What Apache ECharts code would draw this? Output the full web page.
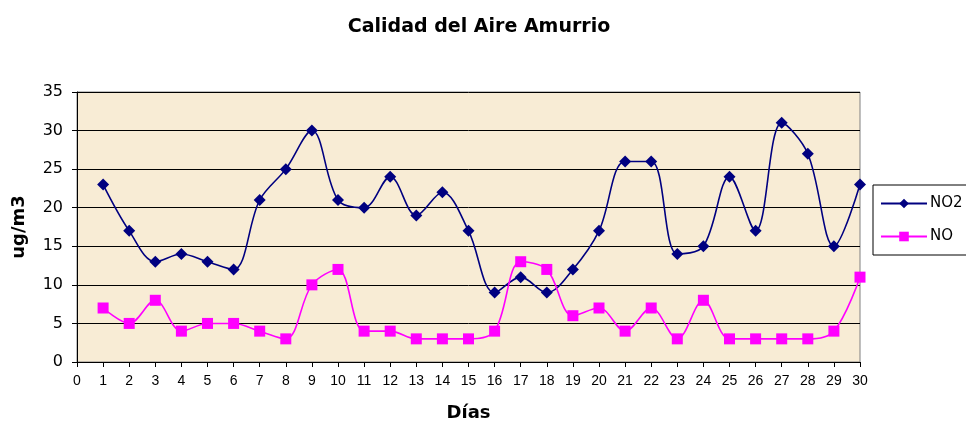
<!DOCTYPE html>
<html>
<head>
<meta charset="utf-8">
<script src="https://cdn.jsdelivr.net/npm/echarts@6/dist/echarts.min.js"></script>
<style>html,body{margin:0;padding:0;background:#fff}#c{width:966px;height:421px}</style>
</head>
<body>
<div id="c"></div>
<script>
const days = [1,2,3,4,5,6,7,8,9,10,11,12,13,14,15,16,17,18,19,20,21,22,23,24,25,26,27,28,29,30];
const no2 = [23,17,13,14,13,12,21,25,30,21,20,24,19,22,17,9,11,9,12,17,26,26,14,15,24,17,31,27,15,23];
const no = [7,5,8,4,5,5,4,3,10,12,4,4,3,3,3,4,13,12,6,7,4,7,3,8,3,3,3,3,4,11];
const titleText = 'Calidad del Aire Amurrio';
const xName = 'Días';
const yName = 'ug/m3';
const seriesNames = ['NO2', 'NO'];

const chart = echarts.init(document.getElementById('c'), null, {renderer: 'canvas'});
const pair = (arr) => days.map((d, i) => [d, arr[i]]);
chart.setOption({
  animation: false,
  backgroundColor: '#ffffff',
  title: {
    text: titleText, left: 474, top: 13, textAlign: 'center',
    textStyle: {fontFamily: 'DejaVu Sans', fontWeight: 'bold', fontSize: 19, color: '#000'}
  },
  grid: {left: 77, right: 106, top: 92, bottom: 59, show: true, containLabel: false, outerBoundsMode: 'none',
    backgroundColor: '#f8ecd5', borderColor: '#808080', borderWidth: 1},
  legend: {
    orient: 'vertical', left: 873, top: 185,
    padding: [11, 12, 11, 7], itemWidth: 46, itemHeight: 12, itemGap: 18,
    borderColor: '#000', borderWidth: 1, backgroundColor: '#fff',
    textStyle: {fontFamily: 'DejaVu Sans', fontSize: 15, color: '#000', padding: [0,0,0,-2]},
    data: seriesNames
  },
  xAxis: {
    type: 'value', min: 0, max: 30, interval: 1,
    name: xName, nameLocation: 'middle', nameGap: 42,
    nameTextStyle: {fontFamily: 'DejaVu Sans', fontWeight: 'bold', fontSize: 18, color: '#000'},
    axisLine: {show: true, lineStyle: {color: '#000', width: 1}},
    axisTick: {show: true, length: 5, lineStyle: {color: '#000'}},
    axisLabel: {fontFamily: 'Liberation Sans', fontSize: 14, color: '#000', margin: 12},
    splitLine: {show: false}
  },
  yAxis: {
    type: 'value', min: 0, max: 35, interval: 5,
    name: yName, nameLocation: 'middle', nameGap: 49,
    nameTextStyle: {fontFamily: 'DejaVu Sans', fontWeight: 'bold', fontSize: 18, color: '#000'},
    axisLine: {show: true, lineStyle: {color: '#000', width: 1}},
    axisTick: {show: true, length: 5, lineStyle: {color: '#000'}},
    axisLabel: {fontFamily: 'DejaVu Sans', fontSize: 16, color: '#000', margin: 14},
    splitLine: {show: true, lineStyle: {color: '#000', width: 1}}
  },
  series: [
    {
      name: seriesNames[0], type: 'line', data: pair(no2), smooth: 0.35,
      symbol: 'diamond', symbolSize: 12,
      itemStyle: {color: '#000080'}, lineStyle: {color: '#000080', width: 1.6}
    },
    {
      name: seriesNames[1], type: 'line', data: pair(no), smooth: 0.35,
      symbol: 'rect', symbolSize: 11,
      itemStyle: {color: '#ff00ff'}, lineStyle: {color: '#ff00ff', width: 1.6}
    }
  ]
});
</script>
</body>
</html>
